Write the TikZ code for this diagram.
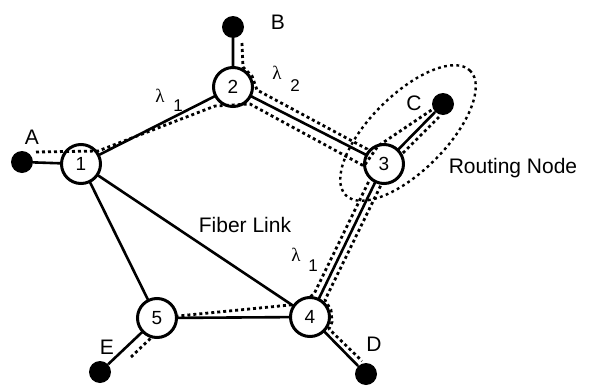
\documentclass[tikz,border=0pt]{standalone}
\usepackage{fontspec}
\setmainfont{Liberation Sans}
\newfontfamily\lamfont{Liberation Serif}
\begin{document}
\begin{tikzpicture}[x=1pt,y=-1pt,
  router/.style={circle, draw, line width=3pt, fill=white, minimum size=39pt,
    inner sep=0pt, font=\fontsize{19}{19}\selectfont},
  host/.style={circle, fill=black, minimum size=22pt, inner sep=0pt},
  link/.style={line width=2.6pt},
  lpath/.style={line width=2.8pt, dash pattern=on 3pt off 3pt, line join=round},
  lbl/.style={font=\fontsize{21}{21}\selectfont, inner sep=0pt},
  lam/.style={font=\lamfont\fontsize{19}{19}\selectfont, inner sep=0pt},
  lamsub/.style={font=\fontsize{17}{17}\selectfont, inner sep=0pt}]
\useasboundingbox (0,0) rectangle (590,386);

% end hosts
\node[host] (A) at (22,162) {};
\node[host] (B) at (233,27) {};
\node[host] (C) at (443,104) {};
\node[host] (D) at (366,374) {};
\node[host] (E) at (100,372) {};

% router positions (circles drawn later, on top of the links)
\coordinate (p1) at (81,164);
\coordinate (p2) at (233,87);
\coordinate (p3) at (384,164);
\coordinate (p4) at (310,317);
\coordinate (p5) at (157,318);

% fiber links
\draw[link] (A) -- (p1) (p1) -- (p2) (p2) -- (p3) (p2) -- (B)
  (p3) -- (C) (p3) -- (p4) (p1) -- (p4) (p1) -- (p5) (p5) -- (p4)
  (p4) -- (D) (p5) -- (E);

% lightpath B - 2 - 3 - 4 - D
\draw[lpath] (242,43) -- (243,67) -- (252,76) -- (257,90) -- (367,149)
  -- (381,185) -- (325,300) -- (331,310) -- (332,322) -- (329,329) -- (362,361);
% lightpath C - 3 - 4 - 5 - E
\draw[lpath] (439,117) -- (404,152) -- (369,181) -- (314,294) -- (300,304)
  -- (178,316) -- (165,327) -- (152,337) -- (131,357);

% routers
\node[router] (n1) at (p1) {1};
\node[router] (n2) at (p2) {2};
\node[router] (n3) at (p3) {3};
\node[router] (n4) at (p4) {4};
\node[router] (n5) at (p5) {5};

% lightpath A - 1 - 2 - 3 - C
\draw[lpath] (36,152) -- (98,151) -- (215,106) -- (250,104) -- (364,166)
  -- (378,146) -- (436,107);

% routing node outline
\draw[lpath, line width=2.4pt, dash pattern=on 2.8pt off 3.4pt]
  [rotate around={45:(408,133)}] (408,133) ellipse (88pt and 38pt);

% labels
\node[lbl] (lA) at (32,137) {A};
\node[lbl] (lB) at (278,22) {B};
\node[lbl] (lC) at (414,103) {C};
\node[lbl] (lD) at (374,344) {D};
\node[lbl] (lE) at (107,347) {E};
\node[lbl] (fl) at (245,225) {Fiber Link};
\node[lbl] (rn) at (513,168) {Routing Node};

\node[lam] (w1) at (160,96) {λ};
\node[lamsub] (w1s) at (178,106) {1};
\node[lam] (w2) at (277,73) {λ};
\node[lamsub] (w2s) at (295,86) {2};
\node[lam] (w3) at (296,255) {λ};
\node[lamsub] (w3s) at (313,266) {1};
\end{tikzpicture}
\end{document}
